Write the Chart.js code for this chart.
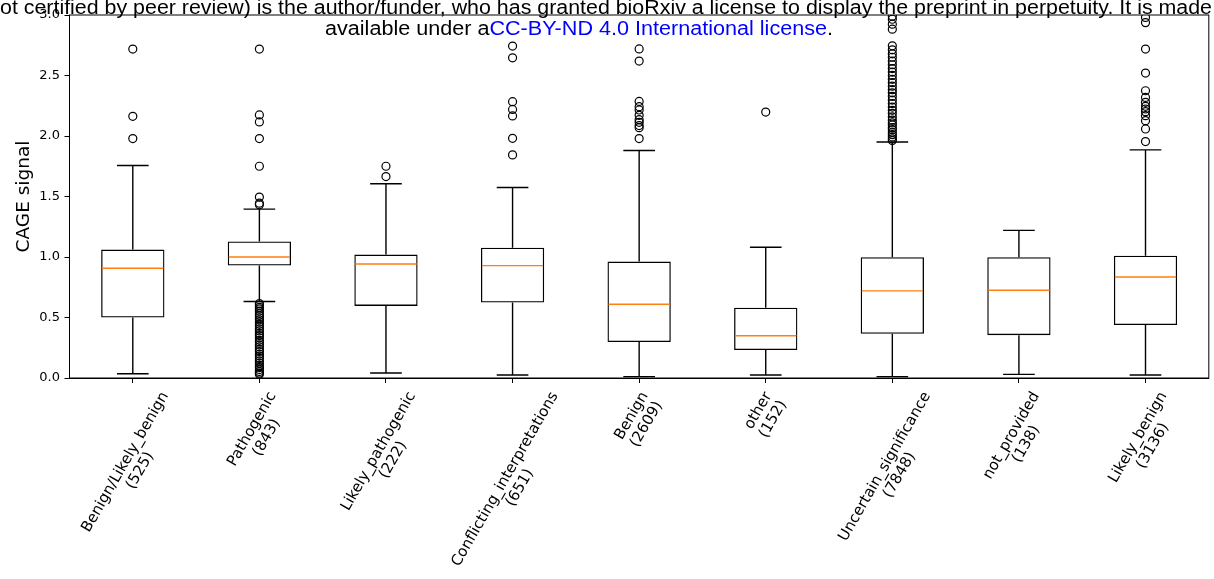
<!DOCTYPE html>
<html>
<head>
<meta charset="utf-8">
<script src="https://cdn.jsdelivr.net/npm/chart.js@4.4.0/dist/chart.umd.min.js"></script>
<style>
  html, body { margin: 0; padding: 0; background: #fff; }
  #wrap { width: 1214px; height: 579px; position: relative; }
</style>
</head>
<body>
<div id="wrap"><canvas id="chartCage"></canvas></div>
<script>
const categories = ["Benign/Likely_benign", "Pathogenic", "Likely_pathogenic", "Conflicting_interpretations",
    "Benign", "other", "Uncertain_significance", "not_provided", "Likely_benign"];
const counts = [525, 843, 222, 651, 2609, 152, 7848, 138, 3136];

// box statistics
const whiskerLow = [0.035, 0.632, 0.041, 0.025, 0.011, 0.025, 0.011, 0.030, 0.025];
const q1 = [0.500, 0.929, 0.596, 0.624, 0.297, 0.231, 0.365, 0.354, 0.437];
const median = [0.907, 1.000, 0.942, 0.929, 0.610, 0.349, 0.720, 0.725, 0.835];
const q3 = [1.061, 1.129, 1.020, 1.077, 0.962, 0.580, 0.998, 0.998, 1.011];
const whiskerHigh = [1.756, 1.396, 1.605, 1.575, 1.880, 1.080, 1.951, 1.220, 1.885];

const outliers = [
    [2.718, 2.163, 1.979],
    [2.718, 2.174, 2.116, 1.979, 1.750, 1.495, 1.445, 1.432,
        0.615, 0.601, 0.584, 0.571, 0.553, 0.534, 0.517, 0.498, 0.481, 0.463, 0.444, 0.427,
        0.406, 0.389, 0.368, 0.351, 0.332, 0.311, 0.296, 0.274, 0.257, 0.236, 0.219, 0.198,
        0.181, 0.162, 0.141, 0.123, 0.104, 0.087, 0.071, 0.054, 0.041, 0.030],
    [1.750, 1.665],
    [2.743, 2.646, 2.284, 2.220, 2.166, 1.981, 1.844],
    [2.720, 2.619, 2.286, 2.242, 2.215, 2.171, 2.135, 2.113, 2.086, 2.069, 1.979],
    [2.198],
    [1.962, 1.976, 1.992, 2.011, 2.029, 2.052, 2.069, 2.091, 2.108, 2.131, 2.158, 2.187, 2.212,
        2.239, 2.268, 2.297, 2.328, 2.357, 2.383, 2.412, 2.441, 2.468, 2.501, 2.528, 2.557,
        2.589, 2.618, 2.651, 2.679, 2.712, 2.745, 2.883, 2.924, 2.965, 2.990],
    [],
    [1.954, 2.058, 2.127, 2.168, 2.201, 2.223, 2.245, 2.278, 2.319, 2.374, 2.520, 2.718, 2.937, 2.980]
];

const yTicks = [0, 0.5, 1.0, 1.5, 2.0, 2.5, 3.0];

const headerLine1 = "ot certified by peer review) is the author/funder, who has granted bioRxiv a license to display the preprint in perpetuity. It is made";
const headerLine2 = ["available under a", "CC-BY-ND 4.0 International license", "."];

Chart.defaults.font.family = "'DejaVu Sans', sans-serif";
Chart.defaults.color = '#000';

renderCageBoxplot();

function renderCageBoxplot() {
    const boxData = q1.map((v, i) => [v, q3[i]]);
    const flierData = [];
    outliers.forEach((list, i) => list.forEach(v => flierData.push({ x: categories[i], y: v })));

    // whiskers, caps and medians, placed with the chart's own scales
    const boxParts = {
        id: 'boxParts',
        afterDatasetsDraw(chart) {
            const { ctx, scales: { x, y } } = chart;
            const bars = chart.getDatasetMeta(0).data;
            ctx.save();
            ctx.lineWidth = 1.4;
            bars.forEach((bar, i) => {
                const cx = x.getPixelForValue(i);
                const half = bar.width / 2;
                const cap = bar.width / 4;
                const yHi = y.getPixelForValue(whiskerHigh[i]);
                const yLo = y.getPixelForValue(whiskerLow[i]);
                ctx.strokeStyle = '#000';
                ctx.beginPath();
                ctx.moveTo(cx, y.getPixelForValue(q3[i]));
                ctx.lineTo(cx, yHi);
                ctx.moveTo(cx, y.getPixelForValue(q1[i]));
                ctx.lineTo(cx, yLo);
                ctx.moveTo(cx - cap, yHi);
                ctx.lineTo(cx + cap, yHi);
                ctx.moveTo(cx - cap, yLo);
                ctx.lineTo(cx + cap, yLo);
                ctx.stroke();
                const yMed = y.getPixelForValue(median[i]);
                ctx.strokeStyle = '#ff7f0e';
                ctx.beginPath();
                ctx.moveTo(cx - half + 1, yMed);
                ctx.lineTo(cx + half - 1, yMed);
                ctx.stroke();
            });
            ctx.restore();
        }
    };

    // frame, rotated category labels and the preprint header line
    const decorations = {
        id: 'decorations',
        afterDraw(chart) {
            const { ctx, chartArea: a, scales: { x } } = chart;
            ctx.save();
            ctx.strokeStyle = '#000';
            ctx.lineWidth = 1;
            ctx.strokeRect(a.left, a.top, a.right - a.left, a.bottom - a.top);

            const ang = Math.PI / 3;
            const lineH = 17;
            const labelTop = a.bottom + 11;
            ctx.fillStyle = '#000';
            ctx.font = "15px 'DejaVu Sans'";
            categories.forEach((name, i) => {
                const lines = [name, '(' + counts[i] + ')'];
                const w = Math.max(...lines.map(s => ctx.measureText(s).width));
                const h = lines.length * lineH;
                const px = x.getPixelForValue(i) - (w * Math.cos(ang) + h * Math.sin(ang)) / 2;
                const py = labelTop + w * Math.sin(ang);
                ctx.save();
                ctx.translate(px, py);
                ctx.rotate(-ang);
                ctx.textAlign = 'center';
                ctx.textBaseline = 'middle';
                lines.forEach((s, j) => ctx.fillText(s, w / 2, lineH * (j + 0.5)));
                ctx.restore();
            });

            ctx.font = "19.5px 'Liberation Sans'";
            ctx.textAlign = 'left';
            ctx.textBaseline = 'alphabetic';
            const w1 = ctx.measureText(headerLine1).width;
            ctx.save();
            ctx.translate(0, 13.5);
            ctx.scale(1212 / w1, 1);
            ctx.fillStyle = '#000';
            ctx.fillText(headerLine1, 0, 0);
            ctx.restore();

            const segW = headerLine2.map(s => ctx.measureText(s).width);
            const total = segW.reduce((p, c) => p + c, 0);
            ctx.save();
            ctx.translate(325, 34.5);
            ctx.scale(508 / total, 1);
            let cx = 0;
            headerLine2.forEach((s, j) => {
                ctx.fillStyle = j === 1 ? '#0000ff' : '#000';
                ctx.fillText(s, cx, 0);
                cx += segW[j];
            });
            ctx.restore();
            ctx.restore();
        }
    };

    const data = {
        labels: categories,
        datasets: [{
            type: 'bar',
            data: boxData,
            backgroundColor: 'rgba(255,255,255,0)',
            borderColor: '#000',
            borderWidth: 1.3,
            borderSkipped: false,
            barPercentage: 0.5,
            categoryPercentage: 1.0,
            grouped: false
        }, {
            type: 'line',
            data: flierData,
            showLine: false,
            pointStyle: 'circle',
            pointRadius: 4,
            pointHoverRadius: 4,
            pointBackgroundColor: 'rgba(255,255,255,0)',
            pointBorderColor: '#000',
            pointBorderWidth: 1.2,
            clip: 0
        }]
    };

    const config = {
        type: 'bar',
        data: data,
        options: {
            responsive: true,
            maintainAspectRatio: false,
            animation: false,
            layout: { padding: { top: 15, right: 2.5, left: 0, bottom: 0 } },
            scales: {
                x: {
                    offset: true,
                    grid: { display: true, offset: false, drawOnChartArea: false, drawTicks: true, tickLength: 5, color: '#000' },
                    border: { display: true, color: '#000' },
                    ticks: { display: false },
                    afterFit(scale) { scale.height = 201; }
                },
                y: {
                    min: 0,
                    max: 3,
                    afterBuildTicks(scale) { scale.ticks = yTicks.map(v => ({ value: v })); },
                    ticks: {
                        color: '#000',
                        font: { size: 13 },
                        padding: 4.5,
                        callback: v => Number(v).toFixed(1)
                    },
                    grid: { drawOnChartArea: false, tickLength: 5, color: '#000' },
                    border: { color: '#000' },
                    title: {
                        display: true,
                        text: 'CAGE signal',
                        color: '#000',
                        font: { size: 18.5 },
                        padding: { top: 13, bottom: 0 }
                    },
                    afterFit(scale) { scale.width = 69.5; }
                }
            },
            plugins: {
                legend: { display: false },
                tooltip: { enabled: false }
            }
        },
        plugins: [boxParts, decorations]
    };

    var myChart = new Chart(
        document.getElementById('chartCage'),
        config
    );
}
</script>
</body>
</html>
